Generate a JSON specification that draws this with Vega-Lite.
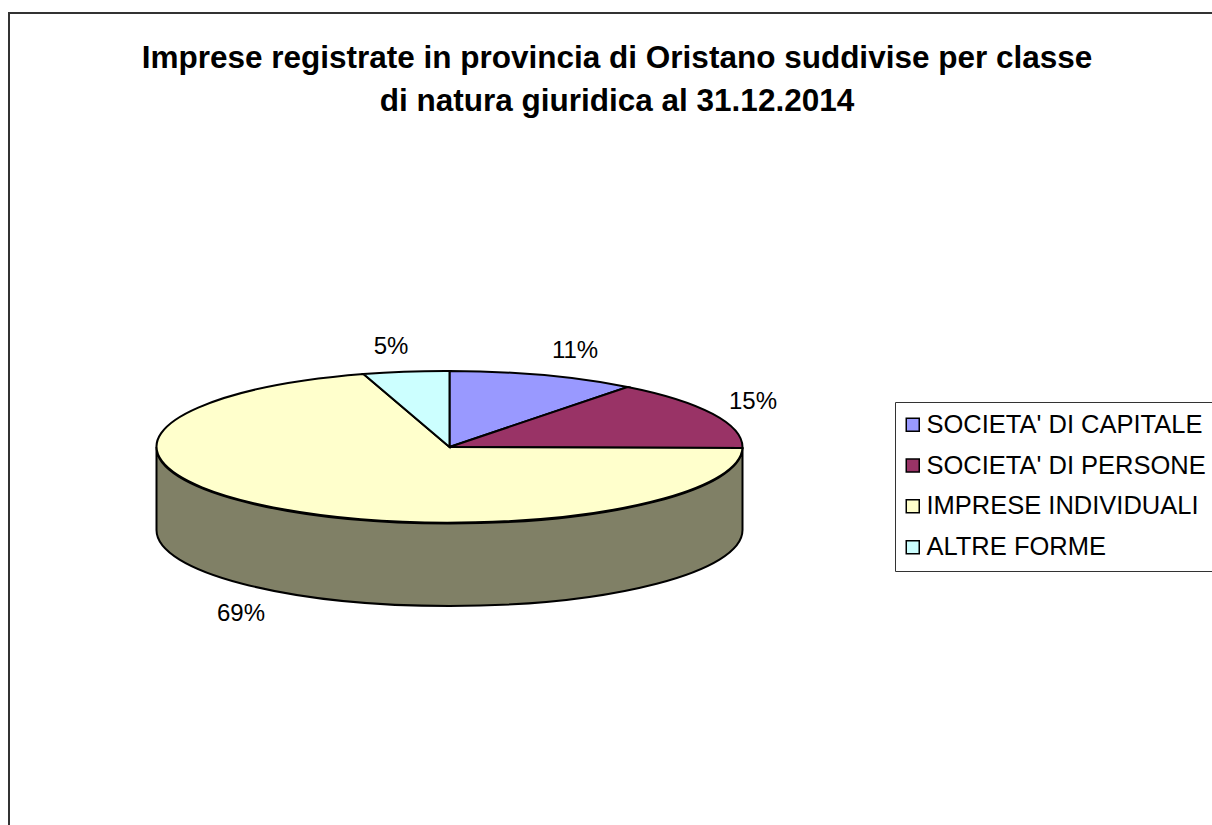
{
"$schema":"https://vega.github.io/schema/vega-lite/v6.json",
"width":1212,"height":825,"padding":0,"autosize":{"type":"none"},
"background":"white",
"config":{"view":{"stroke":null},"font":"Liberation Sans"},
"title":{"text":["Imprese registrate in provincia di Oristano suddivise per classe","di natura giuridica al 31.12.2014"],"font":"Liberation Sans","fontSize":31.5,"fontWeight":"bold","color":"black","anchor":"middle","frame":"group","lineHeight":43,"dx":11,"dy":117,"offset":0},
"data":{"values":[
{"classe":"SOCIETA' DI CAPITALE","quota":0.11},
{"classe":"SOCIETA' DI PERSONE","quota":0.15},
{"classe":"IMPRESE INDIVIDUALI","quota":0.69},
{"classe":"ALTRE FORME","quota":0.05}
]},
"layer":[
{"mark":{"type":"rect","fill":null,"stroke":"#333333","strokeWidth":2},
 "transform":[{"filter":"datum.quota==0.05"}],
 "encoding":{"x":{"value":9},"x2":{"value":1240},"y":{"value":13},"y2":{"value":860}}},
{"mark":{"type":"point","filled":true,"opacity":1,"fill":"#808066","stroke":"black","strokeWidth":2,"size":4,"shape":"M-293,0 L-293,83 A293,76 0 0 0 293,83 L293,1 A293,76 0 0 1 -293,0 Z"},
 "transform":[{"filter":"datum.quota==0.69"}],
 "encoding":{"x":{"value":449.5},"y":{"value":447}}},
{"mark":{"type":"point","filled":true,"opacity":1,"stroke":"black","strokeWidth":2,"size":4},
 "encoding":{"x":{"value":449.5},"y":{"value":447},
  "shape":{"field":"classe","type":"nominal","legend":null,"scale":{"domain":["ALTRE FORME","IMPRESE INDIVIDUALI","SOCIETA' DI PERSONE","SOCIETA' DI CAPITALE"],"range":["M0,0 L-86,-73 A293,76 0 0 1 0,-76 Z","M0,0 L293,1 A293,76 0 1 1 -86,-73 Z","M0,0 L178,-60 A293,76 0 0 1 293,1 Z","M0,0 L0,-76 A293,76 0 0 1 178,-60 Z"]}},
  "fill":{"field":"classe","type":"nominal","sort":null,"scale":{"domain":["SOCIETA' DI CAPITALE","SOCIETA' DI PERSONE","IMPRESE INDIVIDUALI","ALTRE FORME"],"range":["#9999FF","#993366","#FFFFCC","#CCFFFF"]},
   "legend":{"title":null,"orient":"none","legendX":895,"legendY":402,"padding":10,"strokeColor":"#333333","fillColor":"white","symbolType":"square","symbolSize":169,"symbolStrokeColor":"black","symbolStrokeWidth":1.5,"symbolOpacity":1,"symbolOffset":-5,"labelFont":"Liberation Sans","labelFontSize":25.5,"labelColor":"black","labelLimit":320,"rowPadding":13.8,"labelOffset":1,"offset":0}}}},
{"mark":{"type":"text","font":"Liberation Sans","fontSize":24,"color":"black","align":"center","baseline":"middle"},
 "encoding":{
  "x":{"field":"quota","type":"quantitative","axis":null,"scale":{"domain":[0.05,0.11,0.15,0.69],"range":[391,575,753,241],"zero":false,"nice":false}},
  "y":{"field":"quota","type":"quantitative","axis":null,"scale":{"domain":[0.05,0.11,0.15,0.69],"range":[347,351,402,614],"zero":false,"nice":false}},
  "text":{"field":"quota","type":"quantitative","format":".0%"}}}
],
"resolve":{"scale":{"x":"independent","y":"independent"}}
}
